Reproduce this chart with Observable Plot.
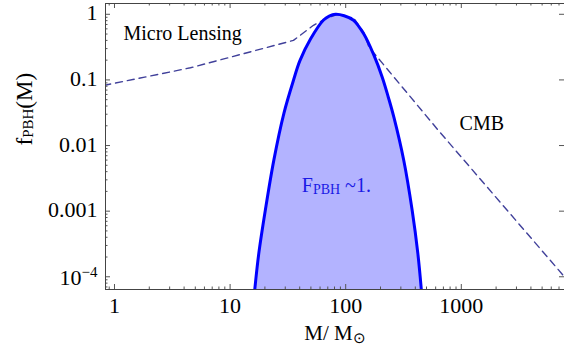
<!DOCTYPE html>
<html><head><meta charset="utf-8">
<script src="https://cdn.jsdelivr.net/npm/d3@7"></script>
<script src="https://cdn.jsdelivr.net/npm/@observablehq/plot@0.6"></script>
<style>body{margin:0;background:#fff} svg{display:block}</style>
</head><body><div id="chart"></div>
<script>
// PBH mass function F_PBH ~ 1
const curveMass = [16.3, 17.7, 20.2, 23.9, 29.2, 35.6, 40.1, 49.6, 64.3, 72, 81.6, 97, 117, 143.5, 175, 207, 234, 261, 318, 376, 421, 452];
const curveFraction = [6.1e-5, 2.25e-4, 1.05e-3, 6.0e-3, 0.031, 0.103, 0.195, 0.42, 0.82, 0.94, 1.0, 0.95, 0.81, 0.50, 0.24, 0.110, 0.054, 0.027, 5.9e-3, 1.02e-3, 2.25e-4, 6.1e-5];
// Micro lensing + CMB constraint (dashed)
const limitMass = [0.808, 4.54, 35.3, 52.6, 69, 87, 120, 143.5, 158.7, 635, 7800];
const limitFraction = [0.0824, 0.153, 0.40, 0.68, 0.88, 1.01, 0.83, 0.53, 0.317, 0.0169, 1.0e-4];
// ticks
const xTicks = [1, 10, 100, 1000];
const xTickLabels = ["1", "10", "100", "1000"];
const yTicks = [1e-4, 1e-3, 0.01, 0.1, 1];
const yTickLabels = ["10^{−4}", "0.001", "0.01", "0.1", "1"];
// annotations
const lensText = "Micro Lensing", lensMass = 1.196, lensFraction = 0.502;
const cmbText = "CMB", cmbMass = 1504, cmbFraction = 0.0213;
const pbhText = "F_{PBH} ~1.", pbhMass = 83, pbhFraction = 0.00245;
const xLabel = "M/ M_{⊙}";
const yLabel = "f_{PBH}(M)";

const curve = curveMass.map((M, i) => ({M, f: curveFraction[i]}));
const limit = limitMass.map((M, i) => ({M, f: limitFraction[i]}));

const W = 564, H = 351, mL = 105, mR = 0, mT = 3, mB = 62;
const plotW = W - mL - mR, plotH = H - mT - mB;
const xDomain = [0.836, 7810], yDomain = [6.4e-5, 1.46];
const minorX = [], minorY = [];
for (let e = -1; e <= 3; e++) for (let k = 2; k <= 9; k++) { const v = k * 10 ** e; if (v > xDomain[0] && v < xDomain[1]) minorX.push(v); }
for (let e = -5; e <= 0; e++) for (let k = 2; k <= 9; k++) { const v = k * 10 ** e; if (v > yDomain[0] && v < yDomain[1]) minorY.push(v); }

const font = "'Liberation Serif','Times New Roman',serif";
const tickColor = "#555";

const plot = Plot.plot({
  width: W, height: H,
  marginLeft: mL, marginRight: mR, marginTop: mT, marginBottom: mB,
  style: {fontFamily: font, color: "#000", background: "#fff", overflow: "visible"},
  x: {type: "log", domain: xDomain, axis: null},
  y: {type: "log", domain: yDomain, axis: null},
  marks: [
    Plot.areaY(curve, {x: "M", y1: yDomain[0], y2: "f", fill: "#b3b3ff", curve: "catmull-rom", clip: true}),
    Plot.line(limit, {x: "M", y: "f", stroke: "#40409a", strokeWidth: 1.4, strokeDasharray: "7,5", clip: true}),
    Plot.line(curve, {x: "M", y: "f", stroke: "#0000ff", strokeWidth: 3, curve: "catmull-rom", clip: true}),
    // ticks: bottom / top
    Plot.tickX(xTicks, {x: d => d, insetTop: plotH - 5, stroke: tickColor}),
    Plot.tickX(minorX, {x: d => d, insetTop: plotH - 2.5, stroke: tickColor}),
    Plot.tickX(xTicks, {x: d => d, insetBottom: plotH - 5, stroke: tickColor}),
    Plot.tickX(minorX, {x: d => d, insetBottom: plotH - 2.5, stroke: tickColor}),
    // ticks: left / right
    Plot.tickY(yTicks, {y: d => d, insetRight: plotW - 5, stroke: tickColor}),
    Plot.tickY(minorY, {y: d => d, insetRight: plotW - 2.5, stroke: tickColor}),
    Plot.tickY(yTicks, {y: d => d, insetLeft: plotW - 5, stroke: tickColor}),
    Plot.frame({stroke: "#444", strokeWidth: 1}),
    // tick labels
    Plot.text(xTicks, {x: d => d, text: (d, i) => xTickLabels[i], frameAnchor: "bottom", lineAnchor: "top", dy: 7.5, fontSize: 22, fill: "#000"}),
    Plot.text(yTicks, {y: d => d, text: (d, i) => yTickLabels[i], frameAnchor: "left", textAnchor: "end", dx: -8, dy: -1, fontSize: 22, fill: "#000"}),
    // annotations
    Plot.text([lensText], {x: () => lensMass, y: () => lensFraction, text: d => d, textAnchor: "start", fill: "#000", fontSize: 20}),
    Plot.text([cmbText], {x: () => cmbMass, y: () => cmbFraction, text: d => d, fill: "#000", fontSize: 20}),
    Plot.text([pbhText], {x: () => pbhMass, y: () => pbhFraction, text: d => d, fill: "#1a1ae6", fontSize: 20}),
    // axis labels
    Plot.text([xLabel], {text: d => d, frameAnchor: "bottom", dy: 50, fontSize: 21, fill: "#000"}),
    Plot.text([yLabel], {text: d => d, frameAnchor: "left", rotate: -90, dx: -81, dy: -1, fontSize: 23, fill: "#000"})
  ]
});

// turn _{..} / ^{..} markup into real sub/superscript tspans
const special = {
  "10^{−4}": {base: 2, sup: {size: 15, shift: -8}},
  "F_{PBH} ~1.": {sub: {size: 14, shift: 2}},
  "M/ M_{⊙}": {sub: {size: 15, shift: 3}},
  "f_{PBH}(M)": {sub: {size: 15, shift: 1}}
};
plot.querySelectorAll("text").forEach(t => {
  const s = t.textContent;
  if (!/[_^]\{/.test(s)) return;
  const opts = special[s] || {};
  const parts = [];
  const re = /([_^])\{([^}]*)\}|([^_^]+)/g;
  let m;
  while ((m = re.exec(s))) {
    if (m[1]) {
      const o = m[1] === "_" ? (opts.sub || {size: 13, shift: 2}) : (opts.sup || {size: 14, shift: -8});
      parts.push({txt: m[2], size: o.size, shift: o.shift + (opts.base || 0)});
    } else parts.push({txt: m[3], size: null, shift: opts.base || 0});
  }
  t.textContent = "";
  let cur = 0;
  for (const p of parts) {
    const ts = document.createElementNS("http://www.w3.org/2000/svg", "tspan");
    ts.textContent = p.txt;
    if (p.size) ts.setAttribute("font-size", p.size);
    const d = p.shift - cur;
    if (d) ts.setAttribute("dy", d);
    cur = p.shift;
    t.appendChild(ts);
  }
});
document.getElementById("chart").appendChild(plot);
</script>
</body></html>
